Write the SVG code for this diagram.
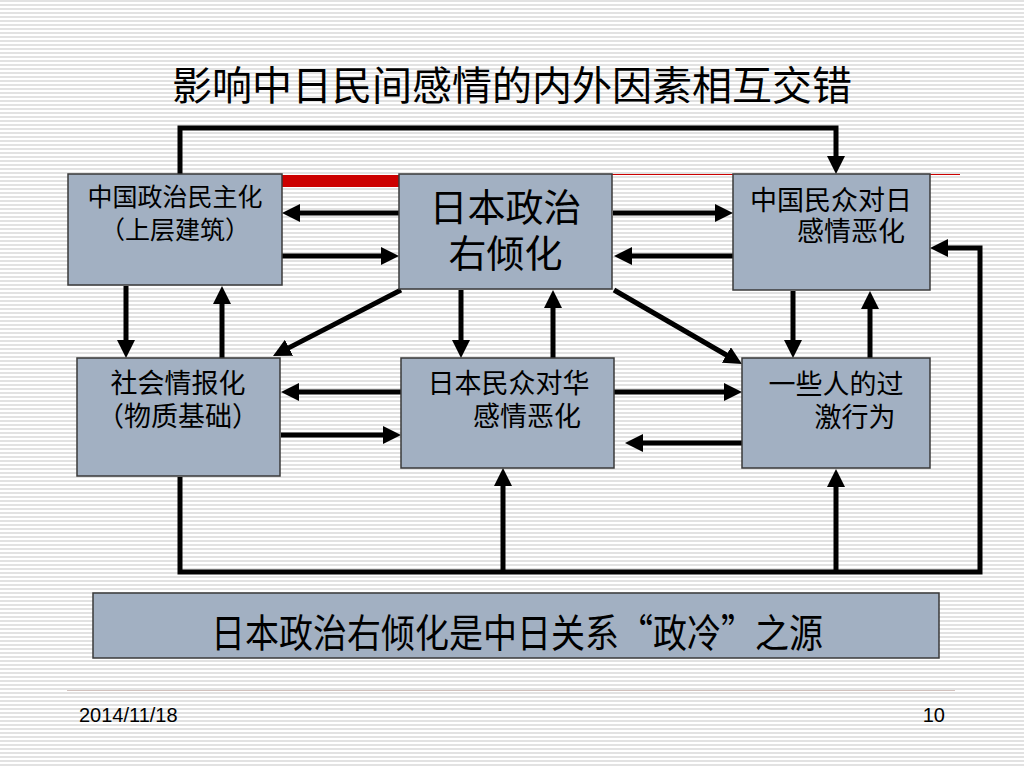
<svg xmlns="http://www.w3.org/2000/svg" width="1024" height="768" viewBox="0 0 1024 768">
<defs>
<pattern id="stripes" width="8" height="4" patternUnits="userSpaceOnUse">
<rect width="8" height="4" fill="#ffffff"/>
<rect y="0" width="8" height="2" fill="#e2e2e2"/>
</pattern>
<marker id="ah" markerUnits="userSpaceOnUse" markerWidth="18" markerHeight="18" refX="8" refY="9" orient="auto">
<path d="M0,0 L18,9 L0,18 z" fill="#000"/>
</marker>
<style>
.box{fill:#a2b0c2;stroke:#3a3a3a;stroke-width:1.5}
.t{font-family:"Noto Sans CJK SC","Noto Sans CJK JP",sans-serif;fill:#000;text-anchor:middle}
.c{fill:none;stroke:#000;stroke-width:5;stroke-linejoin:miter}
.a{marker-end:url(#ah)}
.f{font-family:"Liberation Sans",Arial,sans-serif;font-size:20px;fill:#000}
</style>
</defs>
<rect width="1024" height="768" fill="url(#stripes)"/>

<text class="t" x="512" y="100" font-size="40">影响中日民间感情的内外因素相互交错</text>

<g id="red-lines">
<rect x="282" y="175" width="118" height="12" fill="#cc0000"/>
<line x1="612" y1="174.5" x2="960" y2="174.5" stroke="#cc0000" stroke-width="1"/>
</g>

<g id="connectors">
<path class="c a" d="M399,213 H292"/>
<path class="c a" d="M282,256 H389"/>
<path class="c a" d="M613,213 H723"/>
<path class="c a" d="M733,256 H624"/>
<path class="c a" d="M180,174 V128 H836 V164"/>
<path class="c a" d="M180,477 V572 H980 V248 H940"/>
<path class="c a" d="M503,572 V478"/>
<path class="c a" d="M836,572 V479"/>
<path class="c a" d="M126,286 V348"/>
<path class="c a" d="M222,358 V296"/>
<path class="c a" d="M461,290 V348"/>
<path class="c a" d="M553,358 V300"/>
<path class="c a" d="M793,291 V348"/>
<path class="c a" d="M870,358 V301"/>
<path class="c a" d="M401,290 L281.9,351.4"/>
<path class="c a" d="M614,290 L733.3,359"/>
<path class="c a" d="M401,392 H291"/>
<path class="c a" d="M281,435 H391"/>
<path class="c a" d="M614,392 H732"/>
<path class="c a" d="M742,443 H635"/>
</g>

<g id="node-cn-democratization">
<rect class="box" x="68" y="174" width="214" height="111"/>
<text class="t" font-size="25"><tspan x="175" y="206">中国政治民主化</tspan><tspan x="175" y="239">（上层建筑）</tspan></text>
</g>

<g id="node-jp-right-shift">
<rect class="box" x="399" y="174" width="213" height="115"/>
<text class="t" font-size="38"><tspan x="505.5" y="221">日本政治</tspan><tspan x="505.5" y="267">右倾化</tspan></text>
</g>

<g id="node-cn-public">
<rect class="box" x="733" y="174" width="197" height="116"/>
<text class="t" font-size="27"><tspan x="831" y="210">中国民众对日</tspan><tspan x="851" y="241">感情恶化</tspan></text>
</g>

<g id="node-informatization">
<rect class="box" x="77" y="358" width="203" height="118"/>
<text class="t" font-size="27"><tspan x="178" y="393">社会情报化</tspan><tspan x="178" y="426">（物质基础）</tspan></text>
</g>

<g id="node-jp-public">
<rect class="box" x="401" y="358" width="213" height="110"/>
<text class="t" font-size="27"><tspan x="508.5" y="393">日本民众对华</tspan><tspan x="527" y="426">感情恶化</tspan></text>
</g>

<g id="node-extreme">
<rect class="box" x="742" y="358" width="188" height="110"/>
<text class="t" font-size="27"><tspan x="836" y="394">一些人的过</tspan><tspan x="855" y="427">激行为</tspan></text>
</g>

<g id="node-conclusion">
<rect class="box" x="93" y="593" width="846" height="65"/>
<text class="t" transform="translate(517,647) scale(1,1.15)" x="0" y="0" font-size="34">日本政治右倾化是中日关系“政冷”之源</text>
</g>

<g id="footer">
<line x1="67" y1="690.5" x2="955" y2="690.5" stroke="#d2c2be" stroke-width="1"/>
<text class="f" x="79" y="722">2014/11/18</text>
<text class="f" x="945" y="722" text-anchor="end">10</text>
</g>
</svg>
